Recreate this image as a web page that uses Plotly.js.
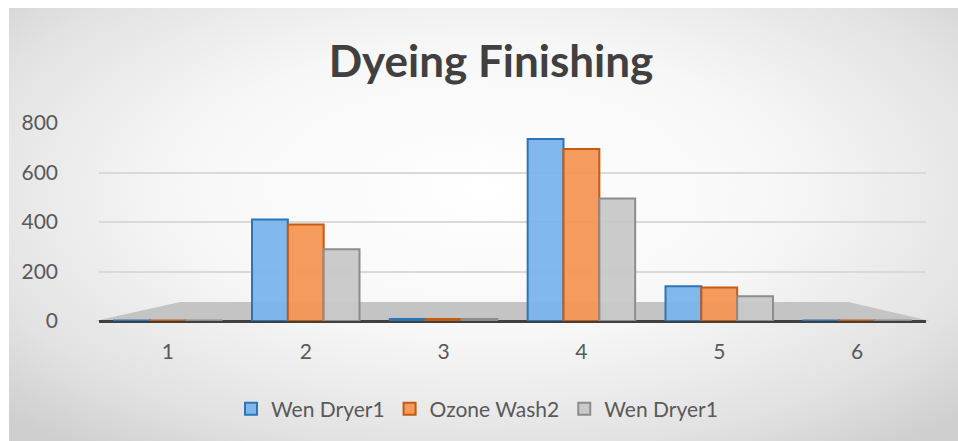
<!DOCTYPE html>
<html>
<head>
<meta charset="utf-8">
<script src="https://cdn.plot.ly/plotly-3.0.1.min.js"></script>
<style>
  html, body { margin: 0; padding: 0; width: 958px; height: 441px; background: #ffffff; overflow: hidden; }
  #bg { position: absolute; left: 9px; top: 8px; width: 949px; height: 433px;
        background: radial-gradient(ellipse 70% 75% at 50% 42%, #ffffff 0%, #f7f7f7 45%, #e2e2e2 80%, #cfcfcf 100%); }
  #chart { position: absolute; left: 0; top: 0; width: 958px; height: 441px; }
</style>
</head>
<body>
<div id="bg"></div>
<div id="chart"></div>
<script>
const categories = ['1', '2', '3', '4', '5', '6'];
const seriesNames = ['Wen Dryer1', 'Ozone Wash2', 'Wen Dryer1'];
const wenDryer1 = [2, 410, 8, 735, 140, 2];
const ozoneWash2 = [2, 390, 8, 695, 135, 2];
const wenDryer1b = [2, 290, 8, 495, 100, 2];
const yTicks = [0, 200, 400, 600, 800];

const fills = ['rgba(122,181,238,0.95)', 'rgba(246,150,85,0.95)', 'rgba(200,200,200,0.95)'];
const borders = ['#2e75b6', '#c55a11', '#8c8c8c'];
const values = [wenDryer1, ozoneWash2, wenDryer1b];

const traces = values.map((v, i) => ({
  type: 'bar',
  name: seriesNames[i],
  x: categories,
  y: v,
  marker: { color: fills[i], line: { color: borders[i], width: 2 } },
  hoverinfo: 'x+y+name'
}));

const layout = {
  width: 958, height: 441,
  paper_bgcolor: 'rgba(0,0,0,0)',
  plot_bgcolor: 'rgba(0,0,0,0)',
  margin: { l: 99, r: 32, t: 123, b: 120 },
  font: { family: 'Lato, "Open Sans", sans-serif', color: '#595959', size: 20 },
  title: {
    text: '<b>Dyeing Finishing</b>',
    font: { family: 'Lato, "Open Sans", sans-serif', size: 44, color: '#404040' },
    x: 491 / 958, xanchor: 'center', xref: 'container',
    y: 1 - 62 / 441, yanchor: 'middle', yref: 'container'
  },
  barmode: 'group',
  bargap: 0.22,
  bargroupgap: 0,
  xaxis: {
    type: 'category',
    range: [-0.5, 5.5],
    showgrid: false,
    showline: false,
    zeroline: false,
    ticks: '',
    ticklabelstandoff: 16,
    tickfont: { size: 21, color: '#595959' }
  },
  yaxis: {
    range: [0, 800],
    tickvals: yTicks,
    showgrid: true,
    gridcolor: '#d9d9d9',
    gridwidth: 2,
    zeroline: true,
    zerolinecolor: '#404040',
    zerolinewidth: 3,
    showline: false,
    ticks: '',
    ticklabelstandoff: 40,
    tickfont: { size: 21, color: '#595959' }
  },
  shapes: [{
    type: 'path', xref: 'paper', yref: 'paper', layer: 'below',
    path: 'M -0.005,0 L 1.005,0 L 0.906,0.096 L 0.098,0.096 Z',
    fillcolor: '#c4c4c4', line: { width: 0 }
  }],
  showlegend: true,
  legend: {
    orientation: 'h',
    xref: 'container', yref: 'container',
    x: 477 / 958, xanchor: 'center',
    y: 1 - 409 / 441, yanchor: 'middle',
    font: { size: 21, color: '#595959' },
    bgcolor: 'rgba(0,0,0,0)',
    itemsizing: 'constant',
    itemwidth: 30
  }
};

Plotly.newPlot('chart', traces, layout, { displayModeBar: false, staticPlot: true });
</script>
</body>
</html>
